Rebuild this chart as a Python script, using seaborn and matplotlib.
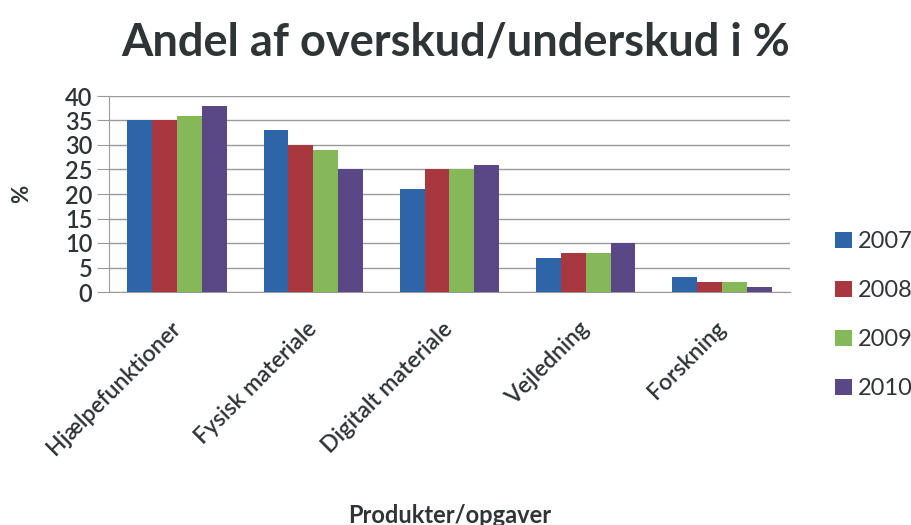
import pandas as pd
import seaborn as sns
from matplotlib import pyplot as plt

CATEGORIES = ['Hjælpefunktioner', 'Fysisk materiale', 'Digitalt materiale',
              'Vejledning', 'Forskning']
YEARS = ['2007', '2008', '2009', '2010']
VALUES_2007 = [35, 33, 21, 7, 3]
VALUES_2008 = [35, 30, 25, 8, 2]
VALUES_2009 = [36, 29, 25, 8, 2]
VALUES_2010 = [38, 25, 26, 10, 1]
Y_TICKS = [0, 5, 10, 15, 20, 25, 30, 35, 40]

COLORS = ['#2e64a8', '#a8373f', '#86b85a', '#5a4886']
TEXT = '#2f3436'
GRID = '#9a9a9a'


def main():
    sns.set_style('white')
    plt.rcParams['font.family'] = ['Lato', 'DejaVu Sans']

    rows = []
    for year, vals in zip(YEARS, [VALUES_2007, VALUES_2008, VALUES_2009, VALUES_2010]):
        for cat, v in zip(CATEGORIES, vals):
            rows.append({'Kategori': cat, 'Aar': year, 'Andel': v})
    df = pd.DataFrame(rows)

    fig = plt.figure(figsize=(9.12, 5.25), dpi=100)
    ax = fig.add_axes([109 / 912, 1 - 292 / 525, 681 / 912, 196 / 525])

    sns.barplot(data=df, x='Kategori', y='Andel', hue='Aar', palette=COLORS,
                width=0.73, gap=0, saturation=1, linewidth=0, ax=ax, zorder=3)

    ax.set_ylim(0, 40)
    ax.set_yticks(Y_TICKS)
    ax.set_xlim(-0.5, len(CATEGORIES) - 0.5)
    ax.yaxis.grid(True, color=GRID, linewidth=1, zorder=0)
    ax.set_axisbelow(True)
    for side in ['top', 'right']:
        ax.spines[side].set_visible(False)
    ax.spines['left'].set_color(GRID)
    ax.spines['bottom'].set_color(GRID)

    ax.tick_params(axis='y', labelsize=17, labelcolor=TEXT, length=9,
                   color=GRID, direction='out', left=True, pad=3)
    ax.tick_params(axis='x', labelsize=16.5, labelcolor=TEXT, length=0, pad=24)
    plt.setp(ax.get_yticklabels(), fontweight='semibold')
    plt.setp(ax.get_xticklabels(), rotation=45, ha='right', va='center',
             rotation_mode='anchor', fontweight='semibold')

    ax.set_xlabel('Produkter/opgaver', fontsize=17, fontweight='bold', color=TEXT)
    ax.xaxis.set_label_coords(0.5, -1.08)
    ax.set_ylabel('%', fontsize=16, fontweight='bold', color=TEXT)
    ax.yaxis.set_label_coords(-0.113, 0.5)

    fig.text(0.5, 1 - 42 / 525, 'Andel af overskud/underskud i %', ha='center',
             va='center', fontsize=32.5, fontweight='bold', color=TEXT)

    handles, labels = ax.get_legend_handles_labels()
    ax.legend_.remove()
    fig.legend(handles, labels, loc='upper left',
               bbox_to_anchor=(826 / 912, 1 - 222 / 525),
               bbox_transform=fig.transFigure, borderaxespad=0,
               frameon=False, fontsize=17, labelcolor=TEXT, handlelength=0.7,
               handleheight=0.7, handletextpad=0.25, labelspacing=1.18)

    fig.savefig('out.png', dpi=100)


if __name__ == '__main__':
    main()
